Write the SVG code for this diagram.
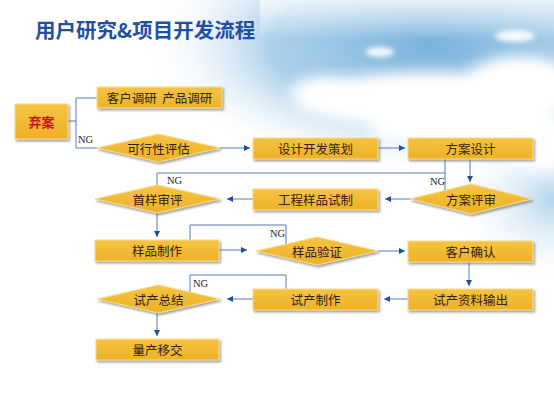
<svg xmlns="http://www.w3.org/2000/svg" width="554" height="415" viewBox="0 0 554 415">
<defs>
<radialGradient id="sky" cx="430" cy="45" r="290" gradientUnits="userSpaceOnUse" gradientTransform="translate(430 45) scale(1 0.45) translate(-430 -45)">
<stop offset="0" stop-color="#7ab2dc"/>
<stop offset="0.55" stop-color="#a3cbe9" stop-opacity="0.9"/>
<stop offset="1" stop-color="#ffffff" stop-opacity="0"/>
</radialGradient>
<radialGradient id="tint" cx="554" cy="200" r="110" gradientUnits="userSpaceOnUse" gradientTransform="translate(554 200) scale(1 0.8) translate(-554 -200)">
<stop offset="0" stop-color="#b3d4ec"/>
<stop offset="1" stop-color="#ffffff" stop-opacity="0"/>
</radialGradient>
<linearGradient id="topfade" x1="0" y1="0" x2="0" y2="1">
<stop offset="0" stop-color="#ffffff" stop-opacity="0.75"/>
<stop offset="1" stop-color="#ffffff" stop-opacity="0"/>
</linearGradient>
<linearGradient id="gold" x1="0" y1="0" x2="0" y2="1">
<stop offset="0" stop-color="#f5c443"/>
<stop offset="1" stop-color="#eeb126"/>
</linearGradient>
<filter id="blur" x="-30%" y="-60%" width="160%" height="220%"><feGaussianBlur stdDeviation="7"/></filter>
<filter id="blur2" x="-50%" y="-100%" width="200%" height="300%"><feGaussianBlur stdDeviation="2.5"/></filter>
<filter id="shadow" x="-10%" y="-20%" width="125%" height="160%"><feDropShadow dx="1.5" dy="2" stdDeviation="1" flood-color="#555" flood-opacity="0.55"/></filter>
<marker id="arr" markerUnits="userSpaceOnUse" markerWidth="7" markerHeight="7" refX="6" refY="3" orient="auto"><path d="M0,0 L6,3 L0,6 z" fill="#1d4f9e"/></marker>
<style>
.box{fill:url(#gold);stroke:#f8dc8e;stroke-width:1;filter:url(#shadow)}
.t{font-family:"Noto Sans CJK SC","Noto Sans",sans-serif;font-size:12.5px;fill:#2e220e;text-anchor:middle;dominant-baseline:central}
.ng{font-family:"Liberation Serif",serif;font-size:10.5px;fill:#222}
.c{fill:none;stroke:#5679b8;stroke-width:1}
.a{marker-end:url(#arr)}
</style>
</defs>
<g id="background">
<rect width="554" height="415" fill="#ffffff"/>
<ellipse cx="430" cy="45" rx="310" ry="140" fill="url(#sky)"/>
<rect x="260" y="0" width="294" height="40" fill="url(#topfade)"/>
<ellipse cx="554" cy="200" rx="110" ry="90" fill="url(#tint)"/>
<g filter="url(#blur)" fill="#ffffff">
<ellipse cx="430" cy="100" rx="135" ry="28"/>
<ellipse cx="520" cy="88" rx="60" ry="32"/>
<ellipse cx="330" cy="92" rx="40" ry="16"/>
<ellipse cx="470" cy="130" rx="100" ry="18"/>
<ellipse cx="540" cy="150" rx="40" ry="20"/>
</g>
<g filter="url(#blur2)" fill="#ffffff" opacity="0.9">
<ellipse cx="380" cy="52" rx="14" ry="5"/>
<ellipse cx="515" cy="36" rx="20" ry="6"/>
</g>
</g>
<text id="title" x="35" y="38" font-family="'Noto Sans CJK SC','Noto Sans',sans-serif" font-size="20.5" font-weight="bold" fill="#1f50a3">用户研究&amp;项目开发流程</text>
<g id="connectors">
<path class="c" d="M68,121 H76 M76,98 V148 M76,98 H97 M76,148 H97"/>
<path class="c a" d="M220,148 H250"/>
<path class="c a" d="M378,148 H405"/>
<path class="c a" d="M470,159 V182"/>
<path class="c" d="M445,159 V191 M445,173 H157 V186"/>
<path class="c a" d="M410,199 H385"/>
<path class="c a" d="M253,199 H227"/>
<path class="c a" d="M157,213 V237"/>
<path class="c a" d="M219,250 H247"/>
<path class="c" d="M190,240 V225 H286 V244"/>
<path class="c a" d="M378,251 H405"/>
<path class="c a" d="M469,261 V286"/>
<path class="c a" d="M408,299 H384"/>
<path class="c a" d="M253,299 H227"/>
<path class="c" d="M286,289 V275 H190 V292"/>
<path class="c a" d="M157,313 V336"/>
<text class="ng" x="78" y="143">NG</text>
<text class="ng" x="167" y="184">NG</text>
<text class="ng" x="430" y="185">NG</text>
<text class="ng" x="270" y="237">NG</text>
<text class="ng" x="193" y="287">NG</text>
</g>
<g id="n-qian"><rect class="box" x="15" y="104" width="53" height="35"/><text x="41.5" y="121.5" font-family="'Noto Sans CJK SC',sans-serif" font-size="13" font-weight="bold" fill="#c8141e" text-anchor="middle" dominant-baseline="central">弃案</text></g>
<g id="n-research"><rect class="box" x="97" y="87" width="125" height="21"/><text class="t" x="159.5" y="97.5" xml:space="preserve">客户调研  产品调研</text></g>
<g id="n-feas"><polygon class="box" points="97,148 158.5,134 220,148 158.5,162"/><text class="t" x="158.5" y="148">可行性评估</text></g>
<g id="n-plan"><rect class="box" x="253" y="138" width="125" height="21"/><text class="t" x="315.5" y="148.5">设计开发策划</text></g>
<g id="n-design"><rect class="box" x="408" y="138" width="125" height="21"/><text class="t" x="470.5" y="148.5">方案设计</text></g>
<g id="n-review"><polygon class="box" points="410,199 471,184 532,199 471,214"/><text class="t" x="471" y="199">方案评审</text></g>
<g id="n-eng"><rect class="box" x="253" y="189" width="125" height="21"/><text class="t" x="315.5" y="199.5">工程样品试制</text></g>
<g id="n-first"><polygon class="box" points="95,199 157.5,185 220,199 157.5,213"/><text class="t" x="157.5" y="199">首样审评</text></g>
<g id="n-sample"><rect class="box" x="95" y="240" width="124" height="21"/><text class="t" x="157" y="250.5">样品制作</text></g>
<g id="n-verify"><polygon class="box" points="256,251 317,237 378,251 317,265"/><text class="t" x="317" y="251">样品验证</text></g>
<g id="n-confirm"><rect class="box" x="408" y="241" width="125" height="21"/><text class="t" x="470.5" y="251.5">客户确认</text></g>
<g id="n-docs"><rect class="box" x="408" y="289" width="125" height="21"/><text class="t" x="470.5" y="299.5">试产资料输出</text></g>
<g id="n-trial"><rect class="box" x="253" y="289" width="125" height="21"/><text class="t" x="315.5" y="299.5">试产制作</text></g>
<g id="n-summary"><polygon class="box" points="97,299 158.5,285 220,299 158.5,313"/><text class="t" x="158.5" y="299">试产总结</text></g>
<g id="n-mass"><rect class="box" x="96" y="339" width="123" height="21"/><text class="t" x="157.5" y="349.5">量产移交</text></g>
</svg>
